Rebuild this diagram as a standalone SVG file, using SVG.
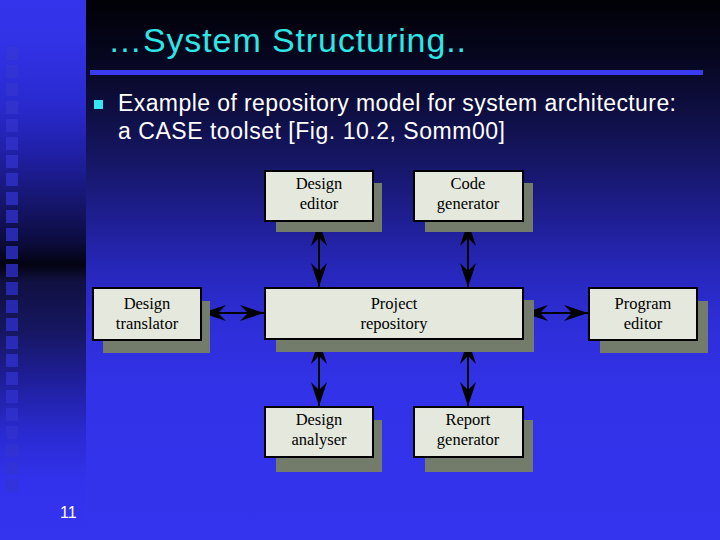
<svg xmlns="http://www.w3.org/2000/svg" width="720" height="540" viewBox="0 0 720 540">
<defs>
<linearGradient id="gMain" gradientUnits="userSpaceOnUse" x1="0" y1="0" x2="0" y2="540">
<stop offset="0" stop-color="#000006"/>
<stop offset="0.1" stop-color="#06061e"/>
<stop offset="0.2" stop-color="#0e0e40"/>
<stop offset="0.3" stop-color="#161666"/>
<stop offset="0.4" stop-color="#1e1e90"/>
<stop offset="0.5" stop-color="#2727bb"/>
<stop offset="0.6" stop-color="#2e2ed8"/>
<stop offset="0.72" stop-color="#3232e8"/>
<stop offset="1" stop-color="#3434ee"/>
</linearGradient>
<linearGradient id="gStrip" gradientUnits="userSpaceOnUse" x1="0" y1="0" x2="0" y2="540">
<stop offset="0" stop-color="#3434ec"/>
<stop offset="0.08" stop-color="#3232e6"/>
<stop offset="0.19" stop-color="#2a2ad0"/>
<stop offset="0.28" stop-color="#2020a8"/>
<stop offset="0.37" stop-color="#161670"/>
<stop offset="0.445" stop-color="#0c0c40"/>
<stop offset="0.49" stop-color="#030312"/>
<stop offset="0.52" stop-color="#101040"/>
<stop offset="0.61" stop-color="#161660"/>
<stop offset="0.7" stop-color="#1e1e98"/>
<stop offset="0.8" stop-color="#2a2ad0"/>
<stop offset="0.89" stop-color="#3232ec"/>
<stop offset="1" stop-color="#3434ee"/>
</linearGradient>
<linearGradient id="gSq" gradientUnits="userSpaceOnUse" x1="0" y1="0" x2="0" y2="540">
<stop offset="0" stop-color="#3838e6"/>
<stop offset="0.5" stop-color="#2626a6"/>
<stop offset="1" stop-color="#3636ea"/>
</linearGradient>
<marker id="ah" viewBox="0 0 24 16" refX="24" refY="8" markerWidth="24" markerHeight="16" markerUnits="userSpaceOnUse" orient="auto-start-reverse">
<path d="M24,8 L0,0 L8,8 L0,16 Z" fill="#000"/>
</marker>
</defs>
<style>
.box{fill:#e5e9dd;stroke:#000;stroke-width:2}
.shadow{fill:#737b6b}
.lbl{font-family:"Liberation Serif","Times New Roman",serif;font-size:16.5px;fill:#000;text-anchor:middle}
.conn{stroke:#000;stroke-width:2;fill:none;marker-start:url(#ah);marker-end:url(#ah)}
.sq{fill:url(#gSq)}
</style>
<rect x="0" y="0" width="720" height="540" fill="url(#gMain)"/>
<rect x="0" y="0" width="86" height="540" fill="url(#gStrip)"/>
<g id="strip-squares">
<rect class="sq" x="6" y="47" width="12" height="13"/>
<rect class="sq" x="6" y="65" width="12" height="13"/>
<rect class="sq" x="6" y="83" width="12" height="13"/>
<rect class="sq" x="6" y="101" width="12" height="13"/>
<rect class="sq" x="6" y="119" width="12" height="13"/>
<rect class="sq" x="6" y="137" width="12" height="13"/>
<rect class="sq" x="6" y="155" width="12" height="13"/>
<rect class="sq" x="6" y="173" width="12" height="13"/>
<rect class="sq" x="6" y="192" width="12" height="13"/>
<rect class="sq" x="6" y="210" width="12" height="13"/>
<rect class="sq" x="6" y="228" width="12" height="13"/>
<rect class="sq" x="6" y="246" width="12" height="13"/>
<rect class="sq" x="6" y="264" width="12" height="13"/>
<rect class="sq" x="6" y="282" width="12" height="13"/>
<rect class="sq" x="6" y="300" width="12" height="13"/>
<rect class="sq" x="6" y="318" width="12" height="13"/>
<rect class="sq" x="6" y="336" width="12" height="13"/>
<rect class="sq" x="6" y="354" width="12" height="13"/>
<rect class="sq" x="6" y="372" width="12" height="13"/>
<rect class="sq" x="6" y="390" width="12" height="13"/>
<rect class="sq" x="6" y="408" width="12" height="13"/>
<rect class="sq" x="6" y="426" width="12" height="13"/>
<rect class="sq" x="6" y="444" width="12" height="13"/>
<rect class="sq" x="6" y="462" width="12" height="12"/>
<rect class="sq" x="6" y="479" width="12" height="13"/>
</g>
<g id="title">
<text x="108" y="52" font-family="'Liberation Sans',Arial,sans-serif" font-size="34" fill="#2ee6e6" textLength="358" lengthAdjust="spacing">…System Structuring..</text>
<rect x="90" y="70" width="613" height="5" fill="#3a3af0"/>
</g>
<g id="bullet">
<rect x="94" y="100" width="9" height="9" fill="#33e6f0"/>
<text x="118" y="111" font-family="'Liberation Sans',Arial,sans-serif" font-size="23" fill="#ffffff" textLength="558" lengthAdjust="spacing">Example of repository model for system architecture:</text>
<text x="118" y="139" font-family="'Liberation Sans',Arial,sans-serif" font-size="23" fill="#ffffff" textLength="387" lengthAdjust="spacing">a CASE toolset [Fig. 10.2, Somm00]</text>
</g>
<text id="page-number" x="60" y="518" font-family="'Liberation Sans',Arial,sans-serif" font-size="16" fill="#ffffff">11</text>
<g id="connectors">
<line class="conn" x1="319" y1="222" x2="319" y2="287"/>
<line class="conn" x1="468" y1="222" x2="468" y2="287"/>
<line class="conn" x1="319" y1="340" x2="319" y2="406"/>
<line class="conn" x1="468" y1="340" x2="468" y2="406"/>
<line class="conn" x1="202" y1="313" x2="264" y2="313"/>
<line class="conn" x1="524" y1="313" x2="588" y2="313"/>
</g>
<g id="design-editor">
<rect class="shadow" x="276" y="183" width="106" height="49"/>
<rect class="box" x="265" y="171" width="108" height="50"/>
<text class="lbl" x="319" y="189">Design</text>
<text class="lbl" x="319" y="209">editor</text>
</g>
<g id="code-generator">
<rect class="shadow" x="425" y="183" width="108" height="49"/>
<rect class="box" x="414" y="171" width="109" height="50"/>
<text class="lbl" x="468" y="189">Code</text>
<text class="lbl" x="468" y="209">generator</text>
</g>
<g id="project-repository">
<rect class="shadow" x="276" y="300" width="258" height="52"/>
<rect class="box" x="265" y="288" width="258" height="51"/>
<text class="lbl" x="394" y="309">Project</text>
<text class="lbl" x="394" y="329">repository</text>
</g>
<g id="design-translator">
<rect class="shadow" x="103" y="301" width="107" height="52"/>
<rect class="box" x="93" y="288" width="108" height="52"/>
<text class="lbl" x="147" y="309">Design</text>
<text class="lbl" x="147" y="329">translator</text>
</g>
<g id="program-editor">
<rect class="shadow" x="600" y="301" width="108" height="52"/>
<rect class="box" x="589" y="288" width="108" height="52"/>
<text class="lbl" x="643" y="309">Program</text>
<text class="lbl" x="643" y="329">editor</text>
</g>
<g id="design-analyser">
<rect class="shadow" x="276" y="420" width="106" height="52"/>
<rect class="box" x="265" y="407" width="108" height="50"/>
<text class="lbl" x="319" y="425">Design</text>
<text class="lbl" x="319" y="445">analyser</text>
</g>
<g id="report-generator">
<rect class="shadow" x="425" y="420" width="108" height="52"/>
<rect class="box" x="414" y="407" width="109" height="50"/>
<text class="lbl" x="468" y="425">Report</text>
<text class="lbl" x="468" y="445">generator</text>
</g>
</svg>
